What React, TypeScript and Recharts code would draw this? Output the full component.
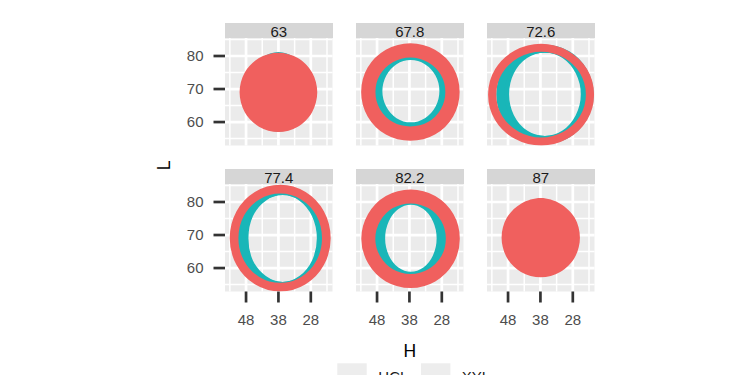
import React from 'react';
import { ScatterChart, Scatter, XAxis, YAxis, CartesianGrid } from 'recharts';

const FACETS = ['63', '67.8', '72.6', '77.4', '82.2', '87'];
const SERIES = ['HCL', 'XYL'];
const H_TICKS = [48, 38, 28];
const H_MINOR = [53, 43, 33, 23];
const L_TICKS = [60, 70, 80];
const L_MINOR = [55, 65, 75, 85];
const H_DOMAIN = [21.3, 54.5];
const L_DOMAIN = [52.9, 85.45];

// Outline points (H, L), per facet and series
const HCL_63 = [[50, 69], [48.4, 75], [44, 79.4], [38, 81], [32, 79.4], [27.6, 75], [26, 69], [27.6, 63], [32, 58.6], [38, 57], [44, 58.6], [48.4, 63]];
const XYL_63 = [[48, 69.2], [46.7, 75.2], [43, 79.5], [38, 81.2], [33, 79.5], [29.3, 75.2], [28, 69.2], [29.3, 63.2], [33, 58.7], [38, 57.1], [43, 58.7], [46.7, 63.2]];

const HCL_67_8 = [[50.7, 69.1], [49.0, 75.4], [44.2, 80.0], [37.7, 81.7], [31.2, 80.0], [26.4, 75.4], [24.7, 69.1], [26.4, 62.8], [31.2, 58.1], [37.7, 56.5], [44.2, 58.1], [49.0, 62.8]];
const XYL_67_8 = [[47.9, 69.4], [46.5, 74.8], [42.8, 78.8], [37.6, 80.3], [32.4, 78.8], [28.6, 74.8], [27.2, 69.4], [28.6, 63.9], [32.4, 59.9], [37.6, 58.4], [42.8, 59.9], [46.5, 63.9]];

const HCL_72_6 = [[52.9, 68.3], [50.9, 75.4], [45.3, 80.6], [37.8, 82.5], [30.3, 80.6], [24.7, 75.4], [22.7, 68.3], [24.7, 61.2], [30.3, 56.0], [37.8, 54.1], [45.3, 56.0], [50.9, 61.2]];
const XYL_72_6_IN = [[48.9, 68.4], [47.3, 75.3], [42.8, 80.4], [36.6, 82.2], [30.5, 80.4], [26.0, 75.3], [24.3, 68.4], [26.0, 61.5], [30.5, 56.4], [36.6, 54.6], [42.8, 56.4], [47.3, 61.5]];
const XYL_72_6_OUT = [[50.4, 68.4], [48.6, 75.3], [43.5, 80.4], [36.6, 82.2], [29.7, 80.4], [24.7, 75.3], [22.8, 68.4], [24.7, 61.5], [29.7, 56.4], [36.6, 54.6], [43.5, 56.4], [48.6, 61.5]];

const HCL_77_4 = [[51.7, 69.0], [49.8, 76.5], [44.6, 81.9], [37.4, 83.9], [30.3, 81.9], [25.1, 76.5], [23.2, 69.0], [25.1, 61.6], [30.3, 56.2], [37.4, 54.2], [44.6, 56.2], [49.8, 61.6]];
const XYL_77_4_IN = [[48.5, 69.0], [47.0, 76.2], [42.6, 81.4], [36.7, 83.3], [30.8, 81.4], [26.5, 76.2], [24.9, 69.0], [26.5, 61.8], [30.8, 56.6], [36.7, 54.6], [42.6, 56.6], [47.0, 61.8]];
const XYL_77_4_OUT = [[49.4, 69.0], [47.7, 76.2], [43.1, 81.4], [36.7, 83.3], [30.4, 81.4], [25.8, 76.2], [24.1, 69.0], [25.8, 61.8], [30.4, 56.6], [36.7, 54.6], [43.1, 56.6], [47.7, 61.8]];

const HCL_82_2 = [[50.7, 68.9], [48.9, 75.3], [44.2, 80.0], [37.6, 81.7], [31.1, 80.0], [26.3, 75.3], [24.6, 68.9], [26.3, 62.5], [31.1, 57.8], [37.6, 56.1], [44.2, 57.8], [48.9, 62.5]];
const XYL_82_2 = [[47.2, 69.0], [45.9, 74.9], [42.4, 79.2], [37.6, 80.8], [32.7, 79.2], [29.2, 74.9], [27.9, 69.0], [29.2, 63.1], [32.7, 58.8], [37.6, 57.2], [42.4, 58.8], [45.9, 63.1]];

const HCL_87 = [[50, 69.2], [48.4, 75.2], [44, 79.5], [37.9, 81.2], [31.9, 79.5], [27.4, 75.2], [25.8, 69.2], [27.4, 63.2], [31.9, 58.8], [37.9, 57.2], [44, 58.8], [48.4, 63.2]];
const XYL_87 = [[49.4, 69.2], [47.9, 75.0], [43.7, 79.2], [37.9, 80.7], [32.2, 79.2], [27.9, 75.0], [26.4, 69.2], [27.9, 63.5], [32.2, 59.2], [37.9, 57.7], [43.7, 59.2], [47.9, 63.5]];

// ---- styles / layout ----
const COLORS: Record<string, string> = { HCL: '#F0605E', XYL: '#19B6B8' };
const FONT = '"Liberation Sans", Arial, Helvetica, sans-serif';
const PANEL_W = 107.5;
const PANEL_H = 107.5;
const PANEL_LEFT = [225, 356, 487];
const PANEL_TOP = [38, 184];
const STRIP_H = 15;
const Y_AXIS_W = 45;
const X_AXIS_H = 45;

type Layer = { series: string; points: number[][]; filled?: boolean; width?: number };

const PANEL_LAYERS: Layer[][] = [
  [{ series: 'XYL', points: XYL_63, filled: true }, { series: 'HCL', points: HCL_63, filled: true }],
  [{ series: 'XYL', points: XYL_67_8, width: 10 }, { series: 'HCL', points: HCL_67_8, width: 14.3 }],
  [{ series: 'XYL', points: XYL_72_6_IN, width: 8 }, { series: 'XYL', points: XYL_72_6_OUT, width: 8 }, { series: 'HCL', points: HCL_72_6, width: 8.2 }],
  [{ series: 'XYL', points: XYL_77_4_IN, width: 8 }, { series: 'XYL', points: XYL_77_4_OUT, width: 8 }, { series: 'HCL', points: HCL_77_4, width: 8.7 }],
  [{ series: 'XYL', points: XYL_82_2, width: 11 }, { series: 'HCL', points: HCL_82_2, width: 14 }],
  [{ series: 'XYL', points: XYL_87, filled: true }, { series: 'HCL', points: HCL_87, filled: true }],
];

const toPoints = (arr: number[][]) => arr.map(([H, L]) => ({ H, L }));

// closed smooth (Catmull-Rom) curve through the outline points
function closedSmooth(context: any) {
  let pts: number[][] = [];
  return {
    areaStart() {},
    areaEnd() {},
    lineStart() {
      pts = [];
    },
    point(x: number, y: number) {
      pts.push([+x, +y]);
    },
    lineEnd() {
      const n = pts.length;
      if (!n) return;
      context.moveTo(pts[0][0], pts[0][1]);
      for (let i = 0; i < n; i++) {
        const p0 = pts[(i - 1 + n) % n];
        const p1 = pts[i];
        const p2 = pts[(i + 1) % n];
        const p3 = pts[(i + 2) % n];
        context.bezierCurveTo(
          p1[0] + (p2[0] - p0[0]) / 6,
          p1[1] + (p2[1] - p0[1]) / 6,
          p2[0] - (p3[0] - p1[0]) / 6,
          p2[1] - (p3[1] - p1[1]) / 6,
          p2[0],
          p2[1]
        );
      }
      context.closePath();
    },
  };
}

const noMarker = () => <g />;

function Panel({ index }: { index: number }) {
  const col = index % 3;
  const row = Math.floor(index / 3);
  const showY = col === 0;
  const showX = row === 1;
  const left = PANEL_LEFT[col] - (showY ? Y_AXIS_W : 0);
  const top = PANEL_TOP[row];
  const w = PANEL_W + (showY ? Y_AXIS_W : 0);
  const h = PANEL_H + (showX ? X_AXIS_H : 0);
  const layers = PANEL_LAYERS[index];
  return (
    <>
      <div
        style={{
          position: 'absolute',
          left: PANEL_LEFT[col],
          top: PANEL_TOP[row] - STRIP_H,
          width: PANEL_W,
          height: STRIP_H,
          background: '#D6D6D6',
          color: '#1A1A1A',
          fontSize: 15,
          lineHeight: '17px',
          textAlign: 'center',
          overflow: 'visible',
          whiteSpace: 'nowrap',
        }}
      >
        {FACETS[index]}
      </div>
      <div style={{ position: 'absolute', left, top, width: w, height: h }}>
        <ScatterChart width={w} height={h} margin={{ top: 0, right: 0, bottom: 0, left: 0 }}>
          <CartesianGrid
            fill="#EBEBEB"
            stroke="#FFFFFF"
            strokeWidth={1.5}
            horizontalValues={L_MINOR}
            verticalValues={H_MINOR}
          />
          <CartesianGrid
            fill="none"
            stroke="#FFFFFF"
            strokeWidth={2.7}
            horizontalValues={L_TICKS}
            verticalValues={H_TICKS}
          />
          <XAxis
            dataKey="H"
            type="number"
            domain={H_DOMAIN}
            reversed
            allowDataOverflow
            ticks={H_TICKS}
            interval={0}
            hide={!showX}
            height={X_AXIS_H}
            axisLine={false}
            tickSize={11}
            tickMargin={11.5}
            tickLine={{ stroke: '#333333', strokeWidth: 2.7 }}
            tick={{ fill: '#4D4D4D', fontSize: 15, fontFamily: FONT }}
          />
          <YAxis
            dataKey="L"
            type="number"
            domain={L_DOMAIN}
            allowDataOverflow
            ticks={L_TICKS}
            interval={0}
            hide={!showY}
            width={Y_AXIS_W}
            axisLine={false}
            tickSize={11.5}
            tickMargin={10}
            tickLine={{ stroke: '#333333', strokeWidth: 2.7 }}
            tick={{ fill: '#4D4D4D', fontSize: 15, fontFamily: FONT }}
          />
          {layers.map((ly, i) => (
            <Scatter
              key={i}
              name={ly.series}
              data={toPoints(ly.points)}
              fill={COLORS[ly.series]}
              isAnimationActive={false}
              shape={noMarker}
              lineJointType={closedSmooth as any}
              line={
                ly.filled
                  ? { stroke: 'none', fill: COLORS[ly.series] }
                  : { stroke: COLORS[ly.series], strokeWidth: ly.width, fill: 'none' }
              }
            />
          ))}
        </ScatterChart>
      </div>
    </>
  );
}

export default function App() {
  return (
    <div
      style={{
        position: 'absolute',
        left: 0,
        top: 0,
        width: 750,
        height: 375,
        overflow: 'hidden',
        background: '#FFFFFF',
        fontFamily: FONT,
      }}
    >
      {FACETS.map((f, i) => (
        <Panel key={f} index={i} />
      ))}
      <svg width={750} height={375} style={{ position: 'absolute', left: 0, top: 0, pointerEvents: 'none' }}>
        <text x={409.75} y={356.7} textAnchor="middle" fontSize={17.5} fill="#000000" fontFamily={FONT}>
          H
        </text>
        <text
          transform="translate(170.4,165.5) rotate(-90)"
          textAnchor="middle"
          fontSize={17.5}
          fill="#000000"
          fontFamily={FONT}
        >
          L
        </text>
        <rect x={337.3} y={363.3} width={29.4} height={29.4} fill="#EDEDED" />
        <text x={378.3} y={382.4} fontSize={15} fill="#1A1A1A" fontFamily={FONT}>
          {SERIES[0]}
        </text>
        <rect x={421} y={363.3} width={29.4} height={29.4} fill="#EDEDED" />
        <text x={461.7} y={382.4} fontSize={15} fill="#1A1A1A" fontFamily={FONT}>
          {SERIES[1]}
        </text>
      </svg>
    </div>
  );
}
